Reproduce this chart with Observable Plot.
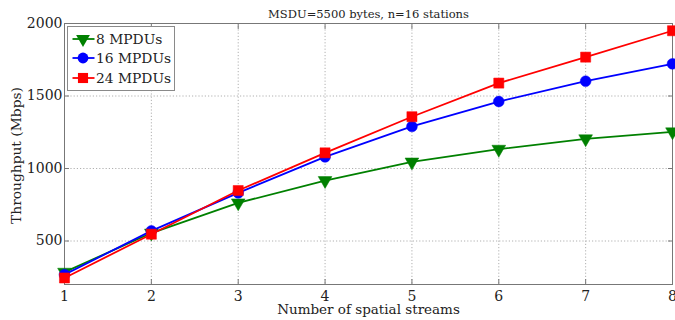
<!DOCTYPE html>
<html>
<head>
<meta charset="utf-8">
<script src="https://cdn.jsdelivr.net/npm/d3@7"></script>
<script src="https://cdn.jsdelivr.net/npm/@observablehq/plot@0.6"></script>
<style>
  body { margin: 0; background: #fff; }
  #chart { position: relative; width: 675px; height: 320px; font-family: "DejaVu Serif", serif; }
  #legend {
    position: absolute; left: 67px; top: 26px;
    background: #fff; border: 1px solid #8a8a8a;
    padding: 2px 3px 2px 4px; font-size: 13.8px; color: #222;
  }
  #legend .row { display: flex; align-items: center; height: 19.5px; white-space: nowrap; }
  #legend svg { margin-right: 1px; }
</style>
</head>
<body>
<div id="chart"></div>
<script>
// Throughput vs. number of spatial streams, MSDU = 5500 bytes, 16 stations
const streams = [1, 2, 3, 4, 5, 6, 7, 8];
const mpdu8  = [285, 555, 763, 917, 1045, 1133, 1205, 1253];
const mpdu16 = [268, 570, 832, 1080, 1290, 1462, 1602, 1722];
const mpdu24 = [245, 547, 848, 1108, 1357, 1589, 1768, 1950];
const seriesNames = ["8 MPDUs", "16 MPDUs", "24 MPDUs"];
const xTicks = [1, 2, 3, 4, 5, 6, 7, 8];
const yTicks = [500, 1000, 1500, 2000];
const title = "MSDU=5500 bytes, n=16 stations";

const styles = {
  "8 MPDUs":  {color: "#008000", symbol: "triangle", rotate: 180, r: 5.1},
  "16 MPDUs": {color: "#0000ff", symbol: "circle", rotate: 0, r: 5.4},
  "24 MPDUs": {color: "#ff0000", symbol: "square", rotate: 0, r: 5.7}
};

const values = [mpdu8, mpdu16, mpdu24];
const rows = seriesNames.flatMap((name, i) =>
  streams.map((s, j) => ({series: name, streams: s, throughput: values[i][j]}))
);

const lineMarks = seriesNames.flatMap(name => {
  const st = styles[name];
  const data = rows.filter(d => d.series === name);
  return [
    Plot.line(data, {x: "streams", y: "throughput", stroke: st.color, strokeWidth: 1.8}),
    Plot.dot(data, {x: "streams", y: "throughput", symbol: () => st.symbol, r: st.r,
      rotate: st.rotate, fill: st.color, stroke: st.color, strokeWidth: 0.5})
  ];
});

const blank = () => "";

const chart = Plot.plot({
  width: 675,
  height: 320,
  marginLeft: 64,
  marginRight: 3,
  marginTop: 23,
  marginBottom: 36,
  style: {fontFamily: "DejaVu Serif, serif", fontSize: "14px", color: "#222", background: "#fff"},
  x: {domain: [1, 8]},
  y: {domain: [200, 2000]},
  symbol: {type: "identity"},
  marks: [
    Plot.gridX(xTicks, {stroke: "#b0b0b0", strokeOpacity: 1, strokeDasharray: "1.2,2"}),
    Plot.gridY(yTicks, {stroke: "#b0b0b0", strokeOpacity: 1, strokeDasharray: "1.2,2"}),
    Plot.frame({stroke: "#777"}),
    Plot.axisX(xTicks, {anchor: "bottom", tickSize: -5, tickPadding: 12, stroke: "#777",
      tickFormat: d => String(d), label: null, fontSize: 14}),
    Plot.axisX(xTicks, {anchor: "top", tickSize: -5, stroke: "#777", tickFormat: blank, label: null}),
    Plot.axisY(yTicks, {anchor: "left", tickSize: -5, tickPadding: 7, stroke: "#777",
      tickFormat: d => String(d), label: null, fontSize: 14}),
    Plot.axisY(yTicks, {anchor: "right", tickSize: -5, stroke: "#777", tickFormat: blank, label: null}),
    Plot.text(["Number of spatial streams"], {frameAnchor: "bottom", dy: 29.5, fontSize: 13.5, lineAnchor: "bottom"}),
    Plot.text(["Throughput (Mbps)"], {frameAnchor: "left", dx: -48, dy: 1.5, rotate: -90,
      textAnchor: "middle", fontSize: 13.8}),
    Plot.text([title], {frameAnchor: "top", dy: -6, lineAnchor: "bottom", fontSize: 11.5}),
    ...lineMarks
  ]
});

const host = document.getElementById("chart");
host.appendChild(chart);

// Legend overlay built from the same series styles
const legend = document.createElement("div");
legend.id = "legend";
for (const name of seriesNames) {
  const st = styles[name];
  const row = document.createElement("div");
  row.className = "row";
  const sw = d3.create("svg").attr("width", 23).attr("height", 16);
  sw.append("line").attr("x1", 0.5).attr("x2", 22.5).attr("y1", 8).attr("y2", 8)
    .attr("stroke", st.color).attr("stroke-width", 1.8);
  const sym = {triangle: d3.symbolTriangle, circle: d3.symbolCircle, square: d3.symbolSquare}[st.symbol];
  sw.append("path")
    .attr("d", d3.symbol(sym, st.r * st.r * Math.PI)())
    .attr("transform", `translate(11,8) rotate(${st.rotate})`)
    .attr("fill", st.color);
  row.appendChild(sw.node());
  const label = document.createElement("span");
  label.textContent = name;
  row.appendChild(label);
  legend.appendChild(row);
}
host.appendChild(legend);
</script>
</body>
</html>
